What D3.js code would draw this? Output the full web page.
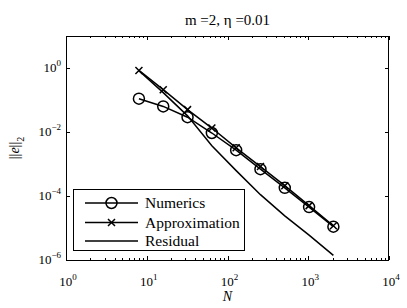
<!DOCTYPE html>
<html>
<head>
<meta charset="utf-8">
<script src="https://cdn.jsdelivr.net/npm/d3@7"></script>
</head>
<body style="margin:0;background:#fff">
<script>
'use strict';

// data
const sizes = [8, 16, 32, 64, 128, 256, 512, 1024, 2048];
const numerics = [0.11, 0.063, 0.029, 0.0093, 0.0027, 6.9e-4, 1.8e-4, 4.5e-5, 1.1e-5];
const approximation = [0.84, 0.21, 0.05, 0.0133, 0.0032, 8.3e-4, 2.1e-4, 5e-5, 1.17e-5];
const residual = [0.82, 0.17, 0.032, 0.0037, 6.2e-4, 1.1e-4, 2.4e-5, 6e-6, 1.4e-6];
const xTicks = [1, 10, 100, 1000, 10000];
const yTicks = [1e-6, 1e-4, 1e-2, 1];
const seriesNames = ['Numerics', 'Approximation', 'Residual'];

const FONT = 'Liberation Serif';
const svg = d3.create('svg').attr('width', 407).attr('height', 308)
    .attr('font-family', FONT);
const pLeft = 66, pRight = 389, pTop = 36, pBottom = 260;

const x = d3.scaleLog().domain([1, 1e4]).range([pLeft, pRight]);
const y = d3.scaleLog().domain([1e-6, 10]).range([pBottom, pTop]);

function txt(sel, px, py, size) {
    return sel.append('text').attr('x', px).attr('y', py)
        .attr('font-family', FONT).attr('font-size', size);
}

// title
txt(svg, (pLeft + pRight) / 2, 25, 15).attr('text-anchor', 'middle')
    .text('m =2, \u03b7 =0.01');

// minor ticks on x, bottom and top
let minor = [];
for (let e = 0; e < 4; e++) {
    for (let k = 2; k <= 9; k++) minor.push(k * Math.pow(10, e));
}
const g = svg.append('g').attr('stroke', '#000').attr('stroke-width', 1);
minor.forEach(v => {
    const px = Math.round(x(v)) + 0.5;
    g.append('line').attr('x1', px).attr('x2', px).attr('y1', pBottom).attr('y2', pBottom - 2);
    g.append('line').attr('x1', px).attr('x2', px).attr('y1', pTop).attr('y2', pTop + 2);
});
xTicks.forEach(v => {
    const px = Math.round(x(v)) + 0.5;
    g.append('line').attr('x1', px).attr('x2', px).attr('y1', pBottom).attr('y2', pBottom - 4);
    g.append('line').attr('x1', px).attr('x2', px).attr('y1', pTop).attr('y2', pTop + 4);
});
yTicks.forEach(v => {
    const py = Math.round(y(v)) + 0.5;
    g.append('line').attr('x1', pLeft).attr('x2', pLeft + 4).attr('y1', py).attr('y2', py);
    g.append('line').attr('x1', pRight).attr('x2', pRight - 4).attr('y1', py).attr('y2', py);
});

// tick labels
function powLabel(sel, v) {
    const e = Math.round(Math.log10(v));
    sel.append('tspan').text('10');
    sel.append('tspan').attr('dy', -6).attr('font-size', 9).text(e < 0 ? '\u2212' + (-e) : e);
}
xTicks.forEach(v => {
    const t = txt(svg, x(v) + 2, 286, 13).attr('text-anchor', 'middle');
    powLabel(t, v);
});
yTicks.forEach(v => {
    const t = txt(svg, pLeft - 5, y(v) + 4, 13).attr('text-anchor', 'end');
    powLabel(t, v);
});

// axis labels
txt(svg, (pLeft + pRight) / 2, 301, 14)
    .attr('text-anchor', 'middle').attr('font-style', 'italic').text('N');
const yl = txt(svg, 0, 0, 14)
    .attr('transform', `translate(19,${(pTop + pBottom) / 2}) rotate(-90)`)
    .attr('text-anchor', 'middle');
yl.append('tspan').text('||');
yl.append('tspan').attr('font-style', 'italic').text('e');
yl.append('tspan').text('||');
yl.append('tspan').attr('dy', 5).attr('font-size', 10).text('2');

// data lines
const line = d3.line().x((d, i) => x(sizes[i])).y(d => y(d));
[residual, approximation, numerics].forEach(s => {
    svg.append('path').datum(s).attr('d', line)
        .attr('fill', 'none').attr('stroke', '#000').attr('stroke-width', 1.5);
});

// markers
function cross(sel, cx, cy, r) {
    sel.append('path')
        .attr('d', `M${cx - r},${cy - r}L${cx + r},${cy + r}M${cx - r},${cy + r}L${cx + r},${cy - r}`)
        .attr('stroke', '#000').attr('stroke-width', 1.5).attr('fill', 'none');
}
function circle(sel, cx, cy, r) {
    sel.append('circle').attr('cx', cx).attr('cy', cy).attr('r', r)
        .attr('stroke', '#000').attr('stroke-width', 1.5).attr('fill', 'none');
}
approximation.forEach((v, i) => cross(svg, x(sizes[i]), y(v), 3.5));
numerics.forEach((v, i) => circle(svg, x(sizes[i]), y(v), 5.5));

// axes box
svg.append('rect').attr('x', pLeft + 0.5).attr('y', pTop + 0.5)
    .attr('width', pRight - pLeft - 1).attr('height', pBottom - pTop)
    .attr('fill', 'none').attr('stroke', '#000').attr('stroke-width', 1);

// legend
const leg = svg.append('g');
leg.append('rect').attr('x', 73.5).attr('y', 189.5).attr('width', 171).attr('height', 61)
    .attr('fill', '#fff').attr('stroke', '#000').attr('stroke-width', 1);
const rowsY = [203, 222.5, 241];
seriesNames.forEach((name, i) => {
    const ry = rowsY[i];
    leg.append('line').attr('x1', 85).attr('x2', 138).attr('y1', ry).attr('y2', ry)
        .attr('stroke', '#000').attr('stroke-width', 1.5);
    if (i === 0) circle(leg, 111.5, ry, 5.5);
    if (i === 1) cross(leg, 111.5, ry, 3.5);
    txt(leg, 145, ry + 5, 15.5).text(name);
});

// hand the finished svg to the html parser
document.write(svg.node().outerHTML);
</script>
</body>
</html>
